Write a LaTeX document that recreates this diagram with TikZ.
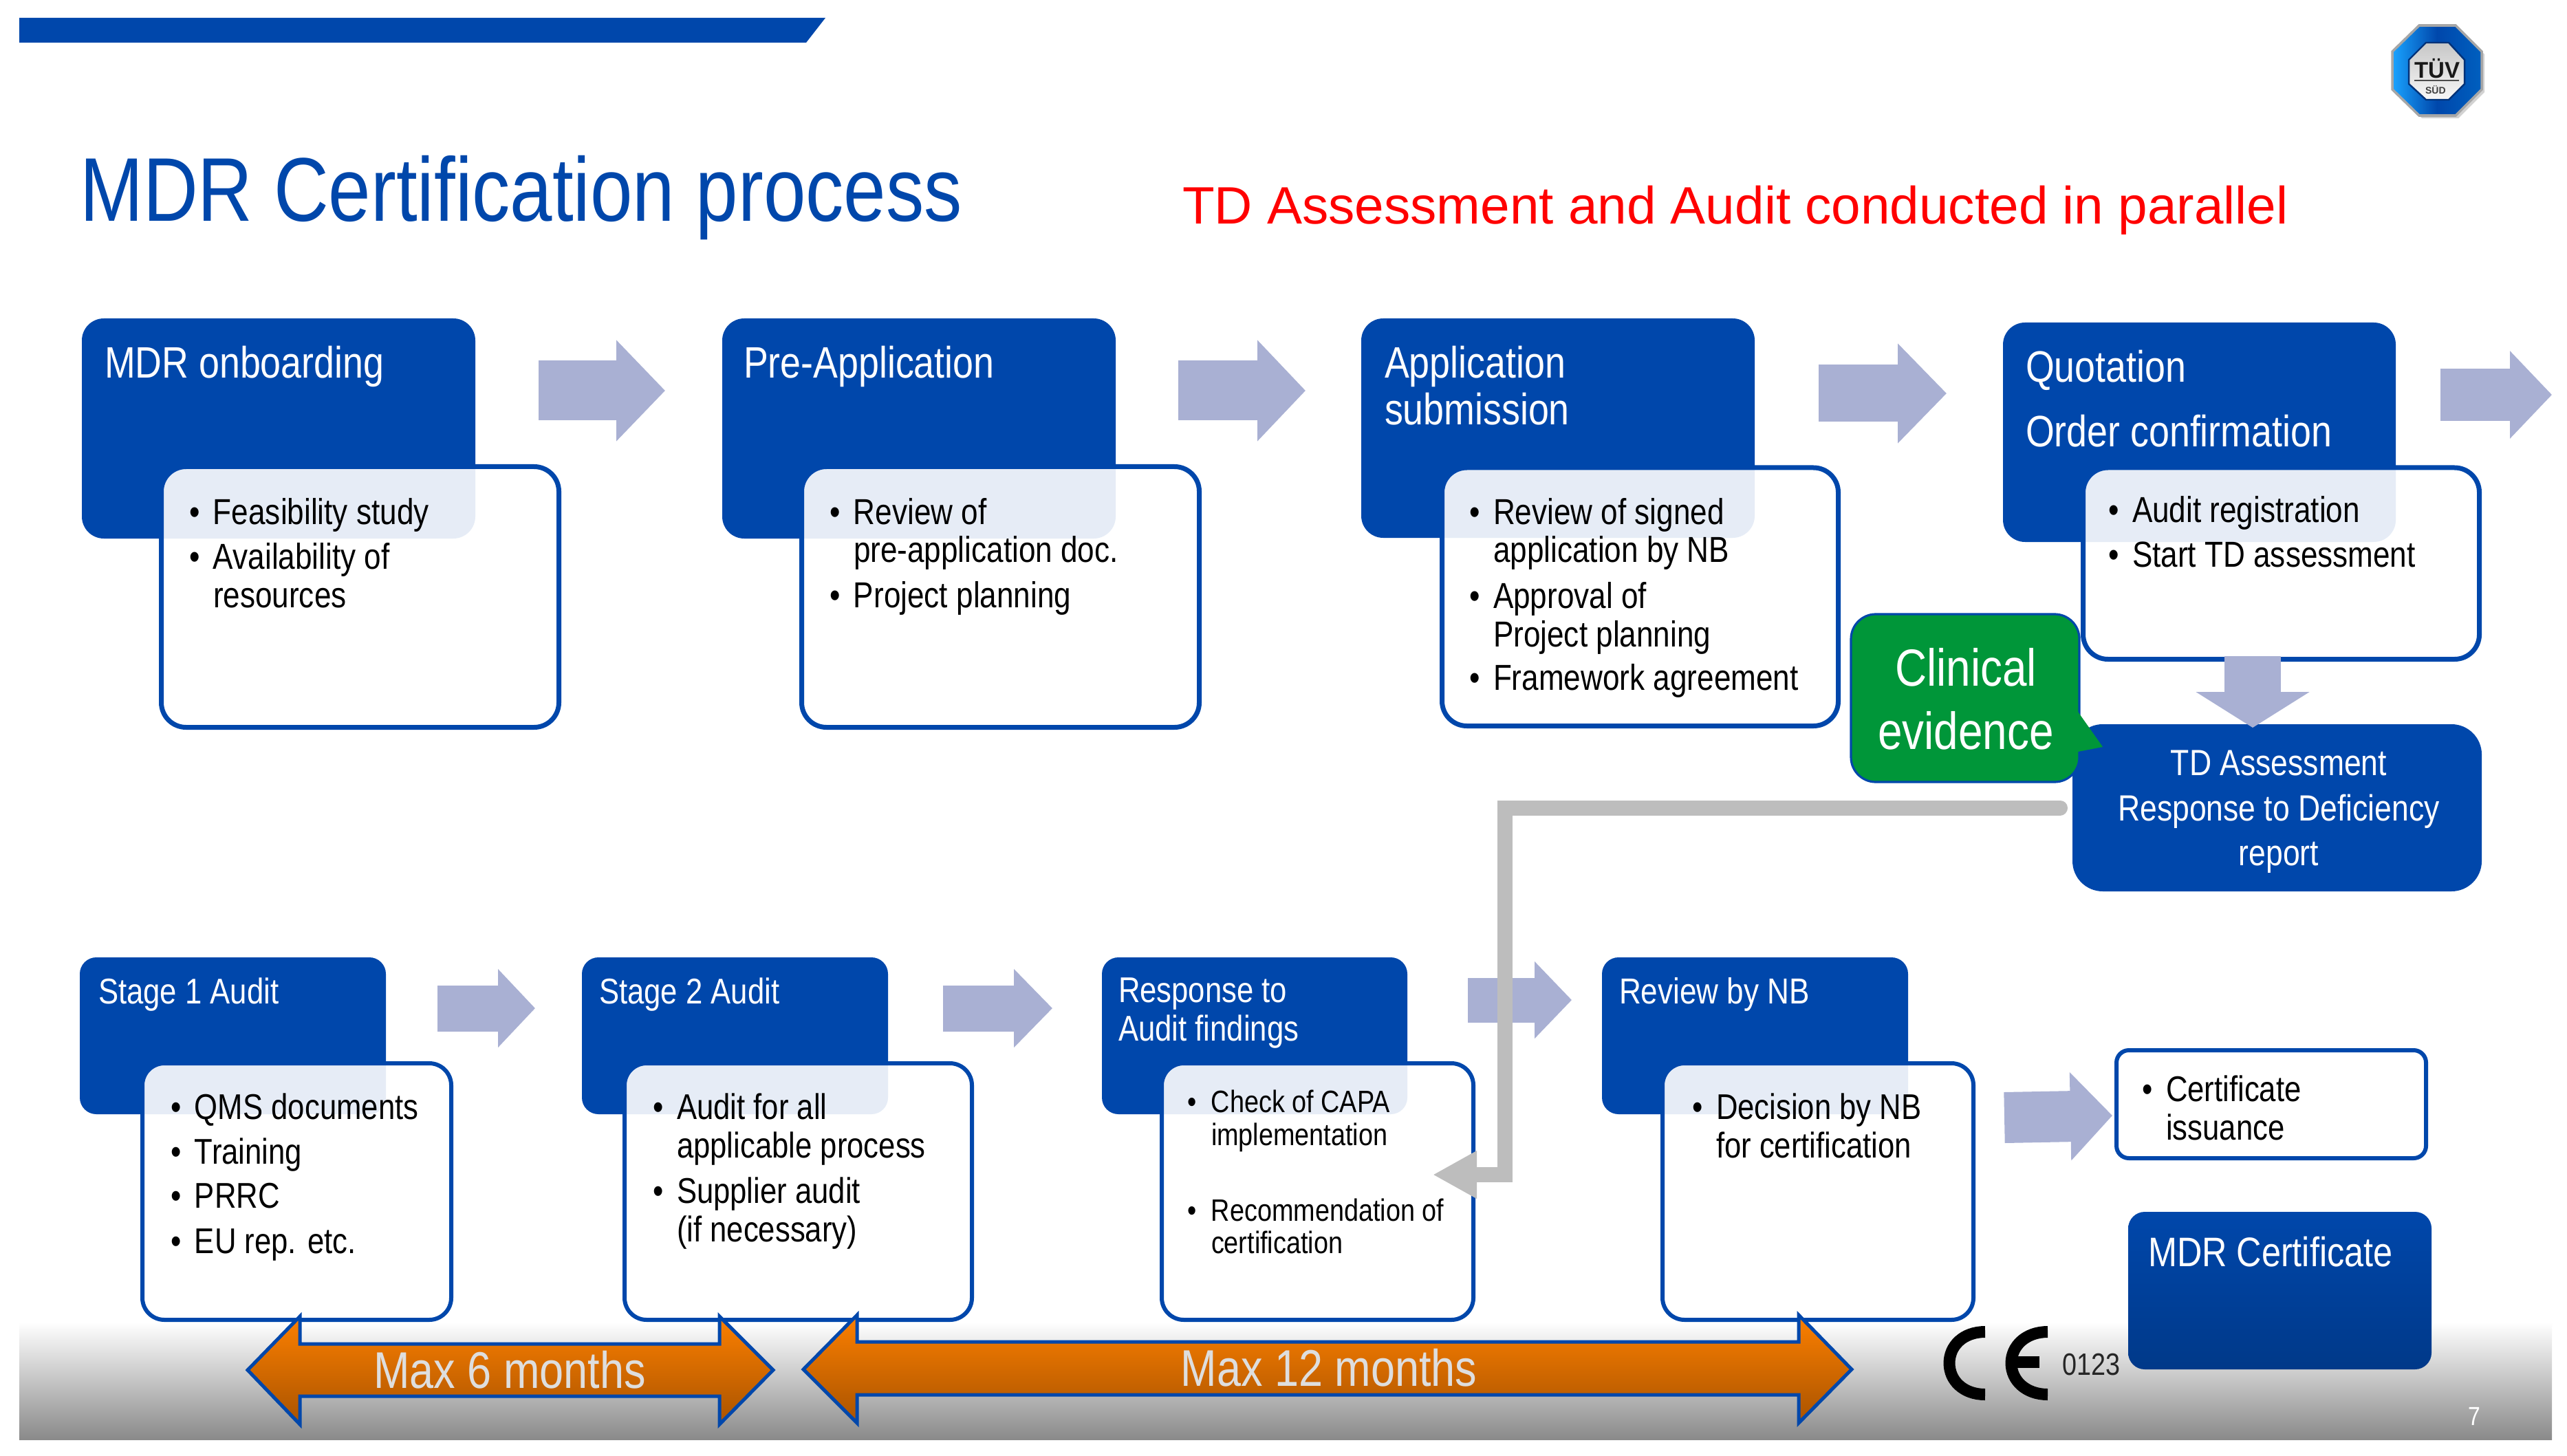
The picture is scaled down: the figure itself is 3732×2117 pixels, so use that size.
\documentclass[tikz,border=0pt]{standalone}
\usepackage{fontspec}
\setmainfont{Liberation Sans}[FakeStretch=0.84]
\newfontfamily\plainf{Liberation Sans}
\usetikzlibrary{arrows.meta}
\newdimen\pxu \pxu=0.25pt
\newdimen\bulind \bulind=8.75pt
\newcommand{\fsz}[1]{\fontsize{\the\dimexpr #1\pxu\relax}{\the\dimexpr #1\pxu\relax}\selectfont}
\newcommand{\stk}[1]{\vtop{\offinterlineskip #1}}
\newcommand{\LN}[2]{\vskip #1\pxu\hbox{\smash{#2}}}
\newcommand{\LC}[2]{\vskip #1\pxu\hbox to 0pt{\hss\smash{#2}\hss}}
\newcommand{\BU}[2]{\vskip #1\pxu\hbox{\smash{\makebox[\bulind][l]{•}#2}}}
\newcommand{\CO}[2]{\vskip #1\pxu\hbox{\smash{\hspace{\bulind}#2}}}
\definecolor{tuvblue}{HTML}{0047AB}
\definecolor{arrowc}{HTML}{A9B0D3}
\definecolor{connc}{HTML}{BDBDBD}
\definecolor{clingreen}{HTML}{009639}
\definecolor{orangetop}{HTML}{FD8000}
\definecolor{orangebot}{HTML}{A95300}
\tikzset{
  sz/.style 2 args={minimum width=#1*0.25pt,minimum height=#2*0.25pt},
  dbox/.style={fill=tuvblue,draw=none,rounded corners=8pt,inner sep=0pt,outer sep=0pt,anchor=north west},
  dboxs/.style={dbox,rounded corners=6pt},
  wbox/.style={draw=tuvblue,line width=1.75pt,fill=white,fill opacity=0.9,rounded corners=9pt,inner sep=0pt,outer sep=0pt,anchor=north west},
  wboxs/.style={wbox,line width=1.5pt,rounded corners=8pt},
  txt/.style={anchor=north west,inner sep=0pt,outer sep=0pt,yshift=0.75pt},
  wtxt/.style={txt,text=white},
  btxt/.style={txt,text=black},
  barrow/.style n args={3}{draw=arrowc,line width=#1,-{Triangle[length=#3,width=#2]}},
  gconn/.style={draw=connc,line width=5.5pt,line cap=round,line join=miter,-{Triangle[length=16pt,width=16.25pt]}},
  bigarrow/.style={top color=orangetop,bottom color=orangebot,draw=tuvblue,line width=1.25pt,line join=miter},
  cestroke/.style={draw=black,line width=4.25pt}
}
\begin{document}
\begin{tikzpicture}[x=0.25pt,y=-0.25pt]
\useasboundingbox (0,0) rectangle (3732,2117);
\fill[white] (0,0) rectangle (3732,2117);
% footer band and top bar
\shade[top color=white,bottom color=black!46] (28,1922) rectangle (3710,2093);
\fill[tuvblue] (28,26) -- (1200,26) -- (1172,62) -- (28,62) -- cycle;
% titles
\node (title) [txt,text=tuvblue,font=\fsz{131.5}] at (116,323) {\stk{\LN{0}{MDR Certification process}}};
\node (subtitle) [txt,text=red,font={\fsz{76.5}\plainf}] at (1719,327) {\stk{\LN{0}{TD Assessment and Audit conducted in parallel}}};
% logo
\fill[black!35,opacity=.5] (3521,41) -- (3574,41) -- (3612,79) -- (3612,134) -- (3574,172) -- (3521,172) -- (3482,134) -- (3482,79) -- cycle;
\path[left color=cyan!60!blue!90,right color=blue!50!cyan!75!black,middle color=tuvblue,draw=black!35,line width=.9pt] (3517,37) -- (3570,37) -- (3608,75) -- (3608,130) -- (3570,168) -- (3517,168) -- (3478,130) -- (3478,75) -- cycle;
\path[top color=black!22,bottom color=black!3,draw=tuvblue!70!black,line width=.6pt] (3527,62) -- (3560,62) -- (3583,87) -- (3583,122) -- (3560,145) -- (3527,145) -- (3502,122) -- (3502,87) -- cycle;
\node (tuvtxt) [txt,text=black!90,font={\fsz{33}\plainf\bfseries},yshift=-0.75pt] at (3510,112) {\stk{\LN{0}{TÜV}}};
\node (sudtxt) [txt,text=black!75,font={\fsz{14}\plainf\bfseries},yshift=-0.75pt] at (3526,135) {\stk{\LN{0}{SÜD}}};
\draw[black!70,line width=.5pt] (3510,117) -- (3575,117);
% dark boxes
\node (d1) [dbox,sz={572}{320}] at (119,463) {};
\node (d2) [dbox,sz={572}{320}] at (1050,463) {};
\node (d3) [dbox,sz={572}{319}] at (1979,463) {};
\node (d4) [dbox,sz={571}{319}] at (2912,469) {};
\node (d5) [dboxs,sz={445}{228}] at (116,1392) {};
\node (d6) [dboxs,sz={445}{228}] at (846,1392) {};
\node (d7) [dboxs,sz={444}{228}] at (1602,1392) {};
\node (d8) [dboxs,sz={445}{228}] at (2329,1392) {};
% white boxes
\node (w1) [wbox,sz={578}{379}] at (234.5,678.5) {};
\node (w2) [wbox,sz={578}{379}] at (1165.5,678.5) {};
\node (w3) [wbox,sz={576}{375.5}] at (2096.5,680) {};
\node (w4) [wbox,sz={576}{278.5}] at (3028.5,680) {};
\node (w5) [wboxs,sz={449}{373}] at (207,1546) {};
\node (w6) [wboxs,sz={505}{373}] at (908,1546) {};
\node (w7) [wboxs,sz={453}{373}] at (1689,1546) {};
\node (w8) [wboxs,sz={452}{373}] at (2417,1546) {};
\node (w9) [wboxs,rounded corners=4.5pt,sz={450}{157}] at (3077,1527) {};
% certificate, TD, clinical
\node (cert) [dboxs,fill=none,top color=tuvblue,middle color=tuvblue,bottom color=tuvblue!80!black,sz={441}{229}] at (3094,1762) {};
\node (td) [dbox,rounded corners=11pt,sz={595}{243}] at (3013,1053) {};
\node (clin) [dbox,fill=clingreen,draw=tuvblue,line width=.8pt,rounded corners=9pt,sz={332}{244}] at (2691,893) {};
\fill[clingreen] (3021,1035) -- (3057,1086) -- (3021,1093) -- cycle;
% block-arrow connectors
\coordinate (a1s) at (783,568); \coordinate (a1e) at (967,568);
\coordinate (a2s) at (1713,568); \coordinate (a2e) at (1898,568);
\coordinate (a3s) at (2644,572); \coordinate (a3e) at (2830,572);
\coordinate (a4s) at (3548,574); \coordinate (a4e) at (3710,574);
\coordinate (a5s) at (3275,954); \coordinate (a5e) at (3275,1058);
\coordinate (s1s) at (636,1466); \coordinate (s1e) at (778,1466);
\coordinate (s2s) at (1371,1466); \coordinate (s2e) at (1530,1466);
\coordinate (s3s) at (2134,1454); \coordinate (s3e) at (2285,1454);
\coordinate (s4s) at (2914,1625); \coordinate (s4e) at (3071,1622);
\draw[barrow={21.75pt}{35.75pt}{17.75pt}] (a1s) -- (a1e);
\draw[barrow={21.75pt}{35.75pt}{17.5pt}] (a2s) -- (a2e);
\draw[barrow={20.75pt}{35.25pt}{17.75pt}] (a3s) -- (a3e);
\draw[barrow={19pt}{31pt}{15.25pt}] (a4s) -- (a4e);
\draw[barrow={20.5pt}{40.75pt}{13pt}] (a5s) -- (a5e);
\draw[barrow={16.75pt}{27.75pt}{13.5pt}] (s1s) -- (s1e);
\draw[barrow={16.75pt}{27.75pt}{14pt}] (s2s) -- (s2e);
\draw[barrow={16.25pt}{27.25pt}{13.5pt}] (s3s) -- (s3e);
\draw[barrow={18.5pt}{31.25pt}{15.25pt}] (s4s) -- (s4e);
% grey feedback connector
\coordinate (gx) at (2188,1174);
\coordinate (g2) at (2188,1708);
\coordinate (g3) at (2083,1708);
\coordinate (g0) at ([xshift=-4.5pt]td.west);
\draw[gconn] (g0) -- (gx |- g0) -- (g2) -- (g3);
% headings
\node (t1) [wtxt,font=\fsz{64}] at (152,551) {\stk{\LN{0}{MDR onboarding}}};
\node (t2) [wtxt,font=\fsz{64}] at (1081,551) {\stk{\LN{0}{Pre-Application}}};
\node (t3) [wtxt,font=\fsz{64}] at (2013,553) {\stk{\LN{0}{Application}\LN{68}{submission}}};
\node (t4) [wtxt,font=\fsz{64}] at (2945,559) {\stk{\LN{0}{Quotation}\LN{94}{Order confirmation}}};
\node (t5) [wtxt,font=\fsz{52}] at (143,1460) {\stk{\LN{0}{Stage 1 Audit}}};
\node (t6) [wtxt,font=\fsz{52}] at (871,1460) {\stk{\LN{0}{Stage 2 Audit}}};
\node (t7) [wtxt,font=\fsz{52}] at (1626,1460) {\stk{\LN{0}{Response to}\LN{56}{Audit findings}}};
\node (t8) [wtxt,font=\fsz{52.5}] at (2354,1460) {\stk{\LN{0}{Review by NB}}};
\node (t9) [wtxt,font=\fsz{60}] at (3123,1842) {\stk{\LN{0}{MDR Certificate}}};
\node (t10) [wtxt,font=\fsz{53}] at (3311,1130) {\stk{\LC{0}{TD Assessment}\LC{66}{Response to Deficiency}\LC{65}{report}}};
\node (t11) [wtxt,font=\fsz{76},yshift=-0.25pt] at (2856,999) {\stk{\LC{0}{Clinical}\LC{92}{evidence}}};
% bullet lists
\node (b1) [btxt,font=\fsz{52.5}] at (275,765) {\stk{\BU{0}{Feasibility study}\BU{65}{Availability of}\CO{56}{resources}}};
\node (b2) [btxt,font=\fsz{52.5}] at (1206,765) {\stk{\BU{0}{Review of}\CO{55}{pre-application doc.}\BU{66}{Project planning}}};
\node (b3) [btxt,font=\fsz{52.5}] at (2136,765) {\stk{\BU{0}{Review of signed}\CO{55}{application by NB}\BU{67}{Approval of}\CO{56}{Project planning}\BU{63}{Framework agreement}}};
\node (b4) [btxt,font=\fsz{52.5}] at (3065,762) {\stk{\BU{0}{Audit registration}\BU{65}{Start TD assessment}}};
\node (b5) [btxt,font=\fsz{52}] at (248,1630) {\stk{\BU{0}{QMS documents}\BU{65}{Training}\BU{64}{PRRC}\BU{66}{EU rep. etc.}}};
\node (b6) [btxt,font=\fsz{52}] at (949,1630) {\stk{\BU{0}{Audit for all}\CO{56}{applicable process}\BU{66}{Supplier audit}\CO{56}{(if necessary)}}};
\node (b7) [btxt,font=\fsz{45}] at (1726,1620) {\stk{\BU{0}{Check of CAPA}\CO{48}{implementation}\BU{110}{Recommendation of}\CO{47}{certification}}};
\node (b8) [btxt,font=\fsz{52}] at (2460,1630) {\stk{\BU{0}{Decision by NB}\CO{56}{for certification}}};
\node (b9) [btxt,font=\fsz{52}] at (3114,1604) {\stk{\BU{0}{Certificate}\CO{56}{issuance}}};
% time-span arrows
\path[bigarrow] (360,1992) -- (436,1914) -- (436,1954) -- (1046,1954) -- (1046,1914) -- (1124,1992) -- (1046,2071) -- (1046,2030) -- (436,2030) -- (436,2071) -- cycle;
\path[bigarrow] (1168,1991) -- (1246,1912) -- (1246,1951) -- (2615,1951) -- (2615,1912) -- (2692,1991) -- (2615,2069) -- (2615,2028) -- (1246,2028) -- (1246,2069) -- cycle;
\node (m6) [txt,text=black!13,font=\fsz{75},yshift=0.5pt] at (739,2021) {\stk{\LC{0}{Max 6 months}}};
\node (m12) [txt,text=black!13,font=\fsz{75},yshift=0.5pt] at (1930,2018) {\stk{\LC{0}{Max 12 months}}};
% CE mark
\draw[cestroke] (2886,1936.5) .. controls (2854,1936.5) and (2834,1957) .. (2834,1982) .. controls (2834,2007) and (2854,2027.5) .. (2886,2027.5);
\draw[cestroke] (2977,1936.5) .. controls (2945,1936.5) and (2924,1957) .. (2924,1982) .. controls (2924,2007) and (2945,2027.5) .. (2977,2027.5);
\draw[cestroke] (2924,1980) -- (2965,1980);
\node (ce) [txt,text=black!85,font=\fsz{45},yshift=-0.75pt] at (2998,1997) {\stk{\LN{0}{0123}}};
\node (pg) [txt,text=white,font=\fsz{38}] at (3588,2073) {\stk{\LN{0}{7}}};
\end{tikzpicture}
\end{document}
